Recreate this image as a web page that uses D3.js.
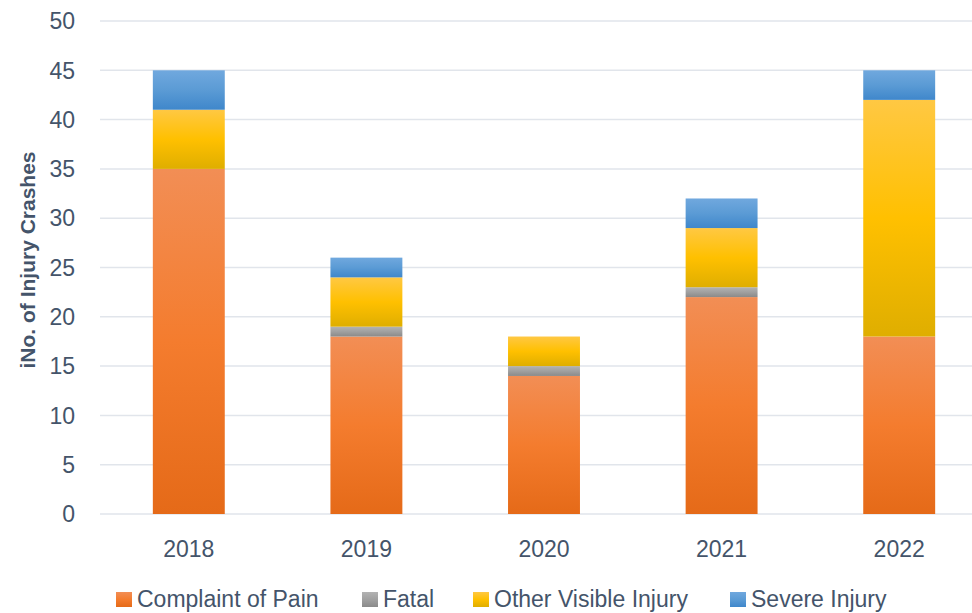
<!DOCTYPE html>
<html>
<head>
<meta charset="utf-8">
<script src="https://cdn.jsdelivr.net/npm/d3@7"></script>
<style>
  body { margin: 0; background: #fff; }
  text { font-family: "Liberation Sans", Arial, sans-serif; fill: #44546A; }
</style>
</head>
<body>
<script>
/* data */
var years = ["2018", "2019", "2020", "2021", "2022"];
var seriesNames = ["Complaint of Pain", "Fatal", "Other Visible Injury", "Severe Injury"];
var pain   = [35, 18, 14, 22, 18];
var fatal  = [0, 1, 1, 1, 0];
var other  = [6, 5, 3, 6, 24];
var severe = [4, 2, 0, 3, 3];
var yTicks = [0, 5, 10, 15, 20, 25, 30, 35, 40, 45, 50];

/* gradient stops: top, middle, bottom */
var grads = [
  ["#F28E55", "#F47C2E", "#E56A18"],
  ["#B3B3B3", "#A0A0A0", "#8A8A8A"],
  ["#FFC843", "#FFC000", "#DFAE00"],
  ["#70A8DE", "#5B9BD5", "#3F87CB"]
];

var W = 972, H = 613;
var svg = d3.select("body").append("svg")
            .attr("width", W)
            .attr("height", H);

var defs = svg.append("defs");
grads.forEach(function(g, i) {
  var lg = defs.append("linearGradient")
               .attr("id", "g" + i)
               .attr("x1", 0).attr("y1", 0)
               .attr("x2", 0).attr("y2", 1);
  lg.append("stop").attr("offset", "0%").attr("stop-color", g[0]);
  lg.append("stop").attr("offset", "50%").attr("stop-color", g[1]);
  lg.append("stop").attr("offset", "100%").attr("stop-color", g[2]);
});

var x = d3.scaleBand().domain(years).range([100, 988])
          .paddingInner(0.595).paddingOuter(0.2975);
var y = d3.scaleLinear().domain([0, 50]).range([514, 21]);

/* gridlines */
svg.append("g").selectAll("line")
   .data(yTicks)
   .enter()
   .append("line")
   .attr("x1", 100).attr("x2", W)
   .attr("y1", function(d) { return y(d); })
   .attr("y2", function(d) { return y(d); })
   .attr("stroke", "#E1E5EB")
   .attr("stroke-width", 1.5);

/* y tick labels */
svg.append("g").selectAll("text")
   .data(yTicks)
   .enter()
   .append("text")
   .attr("x", 75)
   .attr("y", function(d) { return y(d); })
   .attr("dy", "0.36em")
   .attr("text-anchor", "end")
   .style("font-size", "23px")
   .text(function(d) { return d; });

/* y title */
svg.append("text")
   .attr("transform", "translate(35,260) rotate(-90)")
   .attr("text-anchor", "middle")
   .style("font-size", "21px")
   .style("font-weight", "bold")
   .text("iNo. of Injury Crashes");

/* stacked bars */
var rows = years.map(function(yr, i) {
  return { year: yr, s0: pain[i], s1: fatal[i], s2: other[i], s3: severe[i] };
});
var stack = d3.stack().keys(["s0", "s1", "s2", "s3"])(rows);

svg.append("g").selectAll("g")
   .data(stack)
   .enter()
   .append("g")
   .attr("fill", function(d, i) { return "url(#g" + i + ")"; })
   .selectAll("rect")
   .data(function(d) { return d.filter(function(p) { return p[1] - p[0] > 0; }); })
   .enter()
   .append("rect")
   .attr("x", function(d) { return x(d.data.year); })
   .attr("width", x.bandwidth())
   .attr("y", function(d) { return y(d[1]); })
   .attr("height", function(d) { return y(d[0]) - y(d[1]); });

/* x labels */
svg.append("g").selectAll("text")
   .data(years)
   .enter()
   .append("text")
   .attr("x", function(d) { return x(d) + x.bandwidth() / 2; })
   .attr("y", 557)
   .attr("text-anchor", "middle")
   .style("font-size", "23px")
   .text(function(d) { return d; });

/* legend */
var legX = [116, 362, 473, 730];
var leg = svg.append("g").selectAll("g")
   .data(seriesNames)
   .enter()
   .append("g")
   .attr("transform", function(d, i) { return "translate(" + legX[i] + ",0)"; });
leg.append("rect")
   .attr("x", 0).attr("y", 592)
   .attr("width", 16).attr("height", 15)
   .attr("fill", function(d, i) { return "url(#g" + i + ")"; });
leg.append("text")
   .attr("x", 21).attr("y", 607)
   .style("font-size", "23px")
   .text(function(d) { return d; });
</script>
</body>
</html>
